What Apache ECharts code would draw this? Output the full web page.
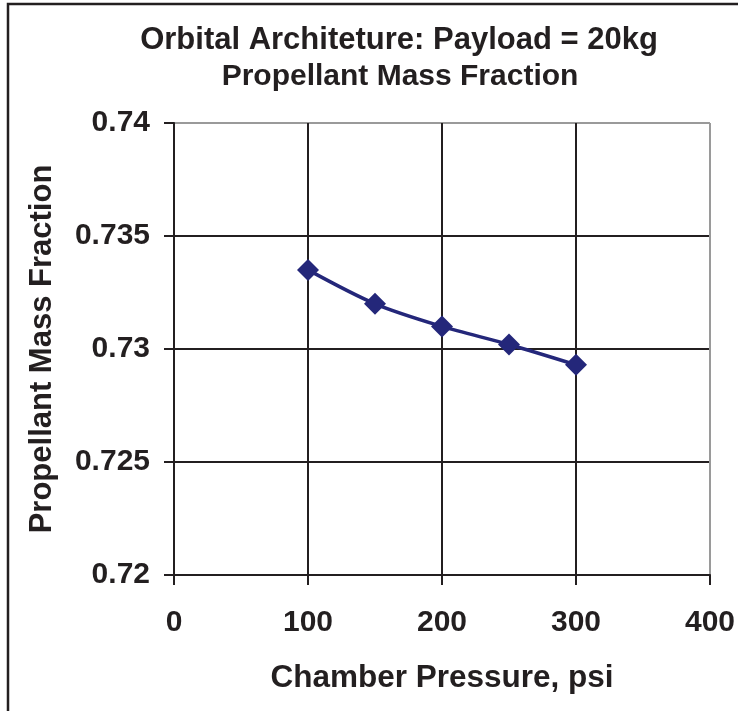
<!DOCTYPE html>
<html>
<head>
<meta charset="utf-8">
<script src="https://cdn.jsdelivr.net/npm/echarts@6/dist/echarts.min.js"></script>
<style>
html,body{margin:0;padding:0;background:#fff;}
#chart{width:738px;height:711px;}
</style>
</head>
<body>
<div id="chart"></div>
<script>
var titleLines = ['Orbital Architeture: Payload = 20kg', 'Propellant Mass Fraction'];
var xAxisName = 'Chamber Pressure, psi';
var yAxisName = 'Propellant Mass Fraction';
var pressure = [100, 150, 200, 250, 300];
var massFraction = [0.7335, 0.7320, 0.7310, 0.7302, 0.7293];
var xTicks = [0, 100, 200, 300, 400];
var yTicks = [0.72, 0.725, 0.73, 0.735, 0.74];

var FONT = '"Liberation Sans", Arial, sans-serif';
var INK = '#231f20';
var chart = echarts.init(document.getElementById('chart'));
var seriesData = pressure.map(function (p, i) { return [p, massFraction[i]]; });

chart.setOption({
  animation: false,
  backgroundColor: '#fff',
  graphic: [{
    type: 'polyline',
    shape: { points: [[8, 711], [8, 4], [738, 4]] },
    style: { stroke: INK, lineWidth: 2.5, fill: null }
  }, {
    type: 'text', x: 399, y: 40,
    style: { text: titleLines[0], textAlign: 'center', textVerticalAlign: 'middle',
      font: 'bold 31px ' + FONT, fill: INK }
  }, {
    type: 'text', x: 400, y: 77,
    style: { text: titleLines[1], textAlign: 'center', textVerticalAlign: 'middle',
      font: 'bold 30px ' + FONT, fill: INK }
  }],
  grid: { left: 174, right: 27, top: 123, bottom: 136, containLabel: false },
  xAxis: {
    type: 'value',
    min: xTicks[0], max: xTicks[xTicks.length - 1], interval: 100,
    name: xAxisName, nameLocation: 'middle', nameGap: 87,
    nameTextStyle: { fontFamily: FONT, fontWeight: 'bold', fontSize: 31.5, color: INK },
    axisLine: { show: true, lineStyle: { color: INK, width: 2 } },
    axisTick: { show: true, inside: false, length: 10, lineStyle: { color: INK, width: 2 } },
    axisLabel: { margin: 33, fontFamily: FONT, fontWeight: 'bold', fontSize: 30, color: INK },
    splitLine: { show: true, lineStyle: { color: [INK, INK, INK, INK, '#9a9a9a'], width: 2 } }
  },
  yAxis: {
    type: 'value',
    min: yTicks[0], max: yTicks[yTicks.length - 1], interval: 0.005,
    name: yAxisName, nameLocation: 'middle', nameGap: 116, nameRotate: 90,
    nameTextStyle: { fontFamily: FONT, fontWeight: 'bold', fontSize: 31, color: INK },
    axisLine: { show: true, lineStyle: { color: INK, width: 2 } },
    axisTick: { show: true, inside: false, length: 10, lineStyle: { color: INK, width: 2 } },
    axisLabel: {
      margin: 24, fontFamily: FONT, fontWeight: 'bold', fontSize: 30, color: INK,
      formatter: function (v) { return String(parseFloat(v.toFixed(3))); }
    },
    splitLine: { show: true, lineStyle: { color: [INK, INK, INK, INK, '#9a9a9a'], width: 2 } }
  },
  series: [{
    type: 'line',
    data: seriesData,
    smooth: 0.3,
    symbol: 'diamond',
    symbolSize: 22,
    lineStyle: { color: '#24277a', width: 3.5 },
    itemStyle: { color: '#24277a' }
  }]
});
</script>
</body>
</html>
